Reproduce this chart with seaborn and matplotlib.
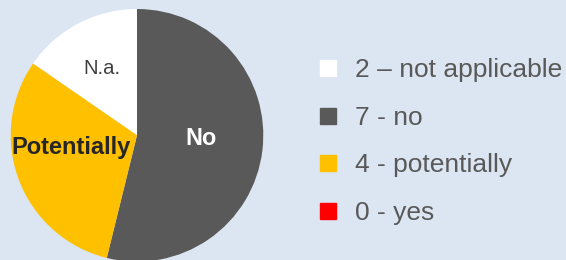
import numpy as np
import matplotlib
matplotlib.use("Agg")
import matplotlib.pyplot as plt
from matplotlib.lines import Line2D
import seaborn as sns

# ===================== data =====================
categories = ["N.a.", "No", "Potentially", "Yes"]
counts = [2, 7, 4, 0]
legend_labels = ["2 \u2013 not applicable", "7 - no", "4 - potentially", "0 - yes"]
colors = ["#FFFFFF", "#595959", "#FFC000", "#FF0000"]

# label styling per slice (yes has no label)
label_color = ["#404040", "#FFFFFF", "#262626", None]
label_weight = ["normal", "bold", "bold", "normal"]
label_size = [14.6, 16.8, 17, 12]
label_r = [0.60, 0.51, 0.53, 0.5]
label_shift = [0, 4.5, -10.5, 0]  # degrees

bg = "#DCE6F2"

sns.set_style("white")
plt.rcParams["font.family"] = ["Liberation Sans", "DejaVu Sans"]

fig = plt.figure(figsize=(5.66, 2.6), dpi=100, facecolor=bg)

# pie axes: centre ~ (137, 135) px, radius ~126 px
cx, cy, rad = 137, 135.3, 126.3
ax = fig.add_axes([(cx - rad) / 566, (260 - cy - rad) / 260, 2 * rad / 566, 2 * rad / 260])
ax.set_facecolor(bg)

total = sum(counts)
start = 90 + counts[0] / total * 360  # N.a. ends at 12 o'clock
wedges, _ = ax.pie(counts, colors=colors, startangle=start, counterclock=False,
                   radius=1, wedgeprops=dict(linewidth=0))
ax.set_xlim(-1, 1)
ax.set_ylim(-1, 1)
ax.axis("off")

# slice labels at wedge mid-angle
for i, w in enumerate(wedges):
    if counts[i] == 0:
        continue
    mid = np.deg2rad((w.theta1 + w.theta2) / 2 + label_shift[i])
    ax.text(label_r[i] * np.cos(mid), label_r[i] * np.sin(mid), categories[i],
            ha="center", va="center", color=label_color[i],
            fontweight=label_weight[i], fontsize=label_size[i])

# legend on the right
handles = [Line2D([], [], marker="s", ls="", markersize=12, markerfacecolor=c,
                  markeredgecolor=c) for c in colors]
fig.legend(handles, legend_labels, loc="center left", bbox_to_anchor=(0.5557, 0.455),
           frameon=False, borderpad=0, borderaxespad=0, fontsize=19,
           labelcolor="#595959", handlelength=1.0, handletextpad=0.53,
           labelspacing=0.89)

plt.savefig("out.png", dpi=100, facecolor=bg)
